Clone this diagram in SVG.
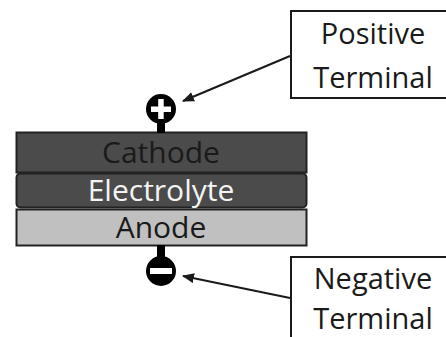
<svg xmlns="http://www.w3.org/2000/svg" width="446" height="337" viewBox="0 0 446 337">
<style>
.lbl{font-family:"Open Sans","Liberation Sans",sans-serif;font-size:29px;fill:#1a1a1a;text-anchor:middle}
.layer{font-family:"Open Sans","Liberation Sans",sans-serif;font-size:30px;text-anchor:middle}
.box{fill:#fff;stroke:#1a1a1a;stroke-width:2}
.conn{stroke:#1a1a1a;stroke-width:2;fill:none}
</style>
<defs>
<marker id="ah" viewBox="0 0 12 10" refX="11" refY="5" markerWidth="12" markerHeight="10" markerUnits="userSpaceOnUse" orient="auto">
<path d="M0,0 L12,5 L0,10 z" fill="#1a1a1a"/>
</marker>
</defs>
<rect width="446" height="337" fill="#fff"/>
<g id="cathode">
<rect x="16.5" y="132.5" width="290" height="40" fill="#4b4b4b" stroke="#222" stroke-width="2"/>
<text class="layer" x="161" y="163" fill="#1a1a1a">Cathode</text>
</g>
<g id="electrolyte">
<rect x="16.5" y="173.5" width="290" height="34" rx="4" fill="#4b4b4b" stroke="#222" stroke-width="2"/>
<text class="layer" x="161" y="201" fill="#f4f4f4">Electrolyte</text>
</g>
<g id="anode">
<rect x="16.5" y="209.5" width="290" height="36" fill="#c0c0c0" stroke="#222" stroke-width="2"/>
<text class="layer" x="161" y="238" fill="#1a1a1a">Anode</text>
</g>
<g id="positive-terminal">
<rect x="157" y="118" width="8" height="15" fill="#000"/>
<circle cx="161" cy="109" r="15" fill="#000"/>
<rect x="151" y="106.5" width="20" height="5.5" fill="#fff"/>
<rect x="158.2" y="99" width="5.5" height="20" fill="#fff"/>
</g>
<g id="negative-terminal">
<rect x="157" y="245" width="8" height="14" fill="#000"/>
<circle cx="161" cy="271" r="15" fill="#000"/>
<rect x="150" y="268" width="22" height="6" fill="#fff"/>
</g>
<g id="positive-label">
<rect class="box" x="291" y="11" width="160" height="87"/>
<text class="lbl" x="373" y="44">Positive</text>
<text class="lbl" x="373" y="88">Terminal</text>
</g>
<g id="negative-label">
<rect class="box" x="291" y="257" width="160" height="90"/>
<text class="lbl" x="373" y="289">Negative</text>
<text class="lbl" x="373" y="329">Terminal</text>
</g>
<g id="connectors">
<line class="conn" x1="290" y1="56" x2="183" y2="101" marker-end="url(#ah)"/>
<line class="conn" x1="290" y1="298" x2="183" y2="276" marker-end="url(#ah)"/>
</g>
</svg>
